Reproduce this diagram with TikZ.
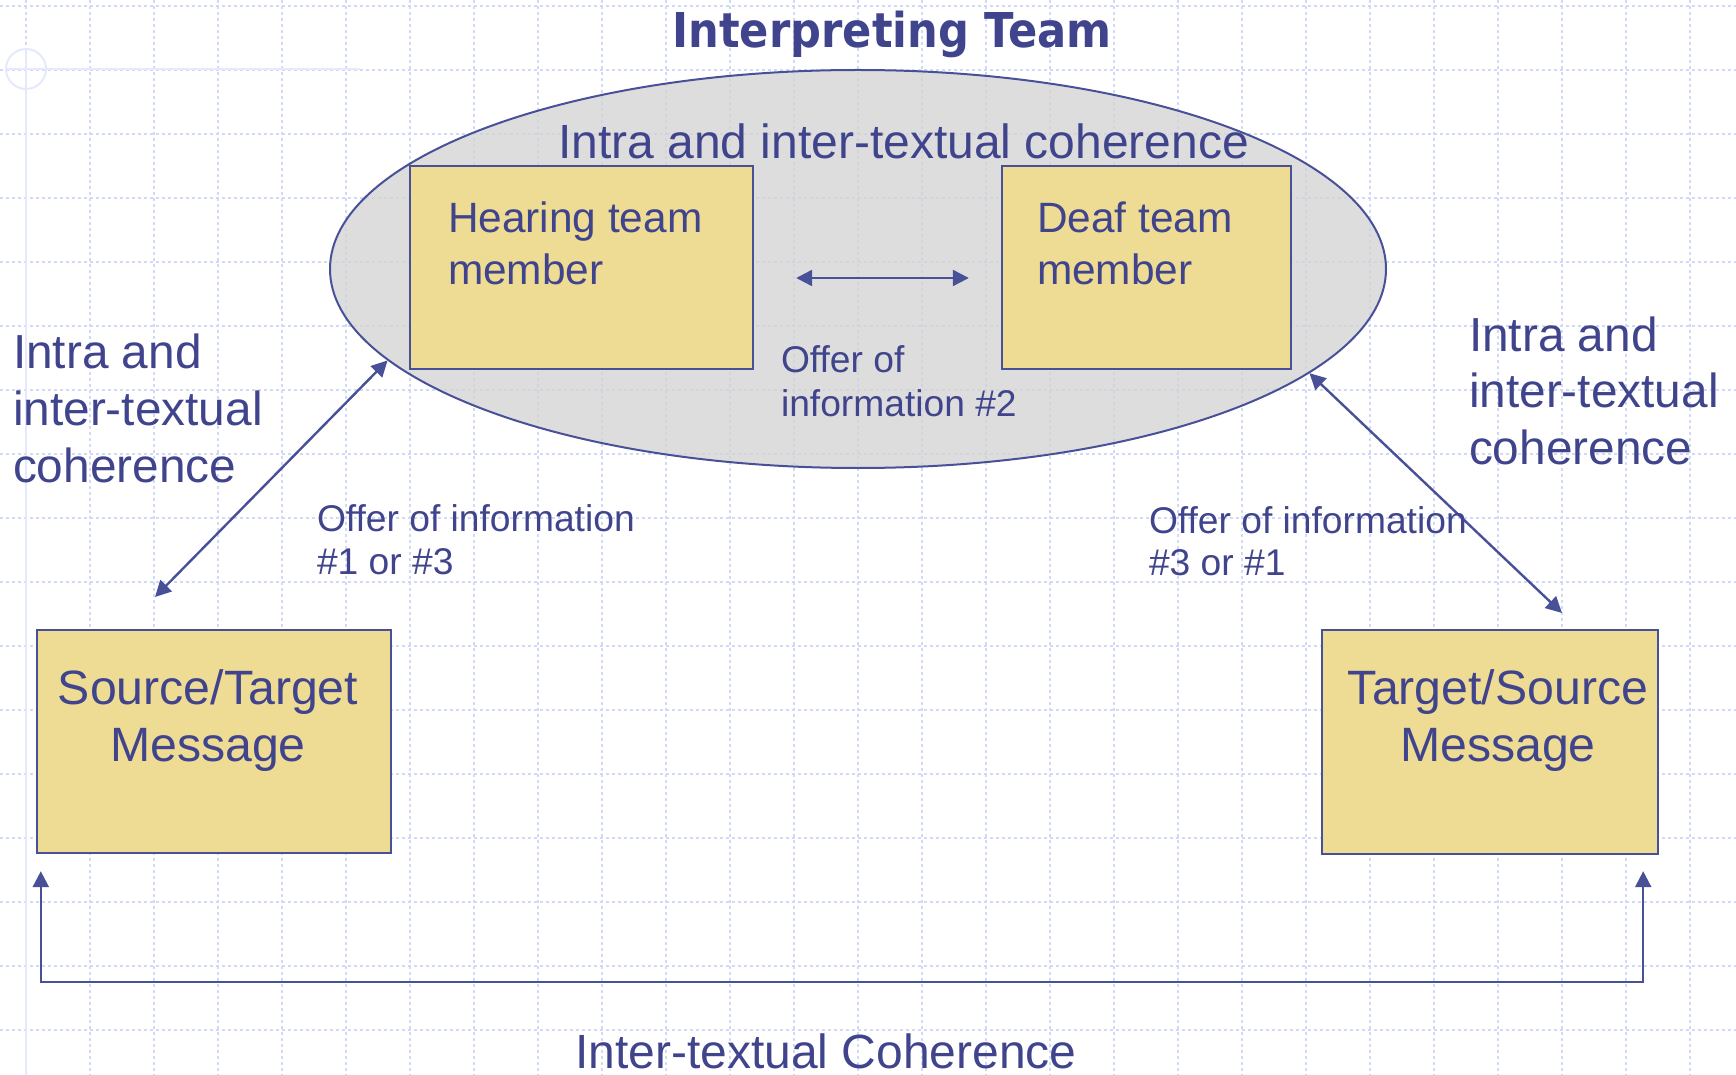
\documentclass[tikz,border=0pt]{standalone}
\usepackage{fontspec}
\setmainfont{Liberation Sans}
\newfontfamily\titlefont[FakeStretch=0.9]{DejaVu Sans}
\usetikzlibrary{shapes.geometric,arrows.meta,calc}

\definecolor{inkblue}{RGB}{64,68,140}
\definecolor{lineblue}{RGB}{72,80,152}
\definecolor{boxyellow}{RGB}{239,220,148}
\definecolor{ovalgray}{RGB}{210,210,210}
\definecolor{gridblue}{RGB}{208,218,248}
\definecolor{tmplblue}{RGB}{228,234,252}

\tikzset{every picture/.style={line width=1pt}}
\tikzset{
  >={Triangle[length=8pt,width=8pt]},
  gridline/.style={draw=gridblue, line width=0.9pt, dash pattern=on 1.5pt off 1.5pt},
  tmpl/.style={draw=tmplblue, line width=1pt},
  member/.style={draw=lineblue, line width=1.2pt, fill=boxyellow, inner sep=0pt},
  link/.style={draw=lineblue, line width=1.2pt, <->},
  txt/.style={inner sep=0pt, text=inkblue, align=left},
  bigtext/.style={font=\fontsize{24}{28.5}\selectfont},
  sidetext/.style={font=\fontsize{23.9}{28.5}\selectfont},
  msgtext/.style={font=\fontsize{24.1}{28.5}\selectfont},
  midtext/.style={font=\fontsize{21.2}{26}\selectfont},
  smalltext/.style={font=\fontsize{18.6}{21}\selectfont},
}

\begin{document}
\begin{tikzpicture}[x=0.5pt,y=0.5pt,yscale=-1,xscale=1]
  \useasboundingbox (0,0) rectangle (1736,1075);

  % background grid
  \foreach \gx in {26,90,...,1690} \draw[gridline] (\gx,0) -- (\gx,1075);
  \foreach \gy in {6,70,...,1030} \draw[gridline] (0,\gy) -- (1736,\gy);
  % template mark, top left
  \draw[tmpl] (26,69) circle[radius=20];
  \draw[tmpl] (5,69) -- (360,69);
  \draw[tmpl] (26,49) -- (26,1075);

  % Shape: Ellipse (team)
  \node[ellipse, draw=lineblue, line width=1pt, fill=ovalgray, fill opacity=0.75,
        inner sep=0pt, minimum width=528pt, minimum height=199pt] (team) at (858,269) {};

  % Flowchart: Process (team members)
  \node[member, minimum width=171.5pt, minimum height=101.5pt] (hear) at (581.5,267.5) {};
  \node[member, minimum width=144.5pt, minimum height=101.5pt] (deaf) at (1146.5,267.5) {};

  % Flowchart: Process (messages)
  \node[member, minimum width=177pt, minimum height=111.5pt] (src) at (214,741.5) {};
  \node[member, minimum width=168pt, minimum height=112pt] (tgt) at (1490,742) {};

  % Straight Lines
  \draw[link] ($(hear.east)+(42,10.5)$) -- ($(deaf.west)+(-32,10.5)$);
  \coordinate (srcend) at (155,597);
  \coordinate (tgtend) at (1562,613);
  \draw[link] (srcend) -- (team.191);
  \draw[link] (team.347) -- (tgtend);
  % Elbow connector
  \coordinate (bus) at (842,982);
  \draw[link] ($(src.south west)+(5,17)$) |- (bus) -| ($(tgt.south east)+(-16,16)$);

  % Text Node (multi-line nodes sit on their last line)
  \node[txt, anchor=base, text=inkblue, font=\titlefont\bfseries\fontsize{24}{28}\selectfont] (title) at (892,48) {Interpreting Team};
  % Text Node
  \node[txt, bigtext, anchor=base west] (cohtop) at (557,159) {Intra and inter-textual coherence};
  % Text Node
  \node[txt, midtext, anchor=base west] (hearlbl) at (447,285) {Hearing team\\member};
  % Text Node
  \node[txt, midtext, anchor=base west] (deaflbl) at (1036,285) {Deaf team\\member};
  % Text Node
  \node[txt, smalltext, anchor=base west, font=\fontsize{18.6}{22}\selectfont] (offer2) at (780,416) {Offer of\\information \#2};
  % Text Node
  \node[txt, sidetext, anchor=base west] (cohleft) at (12,482) {Intra and\\inter-textual\\coherence};
  % Text Node
  \node[txt, sidetext, anchor=base west] (cohright) at (1468,465) {Intra and\\inter-textual\\coherence};
  % Text Node
  \node[txt, smalltext, anchor=base west] (offer13) at (316,574) {Offer of information\\\#1 or \#3};
  % Text Node
  \node[txt, smalltext, anchor=base west] (offer31) at (1148,575) {Offer of information\\\#3 or \#1};
  % Text Node
  \node[txt, msgtext, align=center, anchor=base] (srclbl) at (208,761) {Source/Target\\Message};
  % Text Node
  \node[txt, msgtext, align=center, anchor=base] (tgtlbl) at (1498,761) {Target/Source\\Message};
  % Text Node
  \node[txt, bigtext, anchor=base west] (cohbus) at (574,1068) {Inter-textual Coherence};
\end{tikzpicture}
\end{document}
